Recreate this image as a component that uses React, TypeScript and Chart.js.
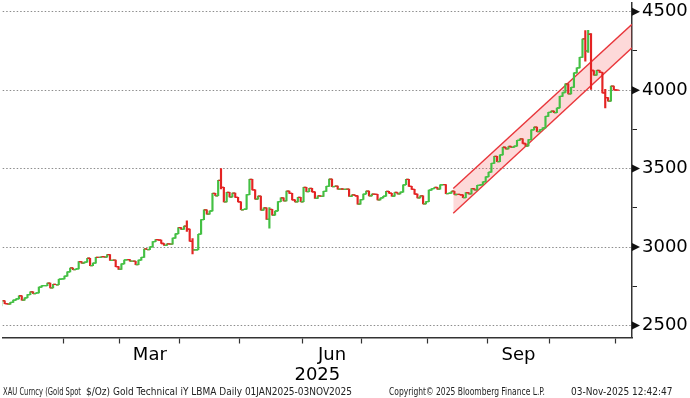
import React, { useEffect, useRef } from 'react';
import { Chart, registerables } from 'chart.js';

Chart.register(...registerables);

// ---------------- data ----------------
const FIRST_DAY = '2025-01-02';
const LAST_DAY = '2025-11-03';
const MARKET_CLOSED = ['2025-04-18'];
const OPEN_BEFORE_FIRST = 2625;

const closesJan = [2658, 2640, 2636, 2648, 2662, 2670, 2690, 2662, 2677, 2697, 2715, 2703, 2708, 2745, 2755, 2755, 2770, 2740, 2763, 2760, 2795, 2798];
const closesFeb = [2815, 2842, 2867, 2856, 2861, 2908, 2898, 2904, 2929, 2882, 2898, 2935, 2934, 2939, 2936, 2952, 2915, 2917, 2876, 2858];
const closesMar = [2893, 2918, 2920, 2910, 2910, 2888, 2917, 2934, 2988, 2984, 3001, 3035, 3048, 3044, 3023, 3011, 3020, 3019, 3057, 3085, 3124];
const closesApr = [3113, 3134, 3114, 3037, 2982, 2983, 3082, 3175, 3237, 3210, 3230, 3342, 3327, 3425, 3381, 3288, 3349, 3319, 3344, 3317, 3288];
const closesMay = [3238, 3241, 3334, 3431, 3365, 3306, 3325, 3236, 3250, 3176, 3240, 3203, 3230, 3290, 3314, 3294, 3357, 3342, 3301, 3288, 3317, 3289];
const closesJun = [3380, 3353, 3374, 3352, 3310, 3326, 3323, 3355, 3387, 3433, 3385, 3388, 3369, 3370, 3368, 3369, 3323, 3333, 3327, 3274, 3303];
const closesJul = [3338, 3357, 3326, 3337, 3336, 3301, 3313, 3324, 3355, 3343, 3324, 3348, 3339, 3350, 3397, 3431, 3387, 3368, 3337, 3314, 3326, 3275, 3290];
const closesAug = [3363, 3373, 3380, 3369, 3397, 3398, 3341, 3344, 3356, 3335, 3336, 3333, 3315, 3347, 3339, 3372, 3365, 3393, 3397, 3416, 3448];
const closesSep = [3477, 3533, 3578, 3545, 3587, 3636, 3626, 3641, 3635, 3643, 3680, 3690, 3660, 3644, 3685, 3747, 3764, 3736, 3749, 3760, 3833, 3858];
const closesOct = [3866, 3857, 3886, 3960, 3985, 4040, 3976, 4018, 4110, 4142, 4209, 4326, 4251, 4356, 4125, 4095, 4126, 4113, 3982, 3952, 3930, 4025, 4002];
const closesNov = [4000];

const wickDates = ['2025-04-03', '2025-04-07', '2025-04-22', '2025-05-15', '2025-10-17', '2025-10-20', '2025-10-21', '2025-10-28'];
const wickHighs = [3168, 3055, 3500, 3252, 4379, 4381, 4360, 4005];
const wickLows = [3100, 2957, 3370, 3121, 4185, 4240, 4004, 3886];

// trend channel (trading-day position, price)
const channelDays = [158.6, 221.4];
const channelUpper = [3373, 4420];
const channelLower = [3216, 4270];

const yTickLabels = [2500, 3000, 3500, 4000, 4500];
const yMinorStep = 250;
const yMin = 2424;
const yMax = 4557;
const xMin = 0.3;
const xMax = 221.4;

const xTickLabels = ['Mar', 'Jun', 'Sep'];
const xLabelMonths = [2, 5, 8];
const yearLabel = '2025';

const footerParts = [
  'XAU Curncy (Gold Spot',
  '$/Oz) Gold Technical iY LBMA Daily 01JAN2025-03NOV2025',
  'Copyright\u00A9 2025 Bloomberg Finance L.P.',
  '03-Nov-2025 12:42:47',
];

// ---------------- helpers ----------------
const FONT = '"DejaVu Sans", Verdana, sans-serif';
const UP = '#44c044';
const DOWN = '#e42323';

function tradingDays(): string[] {
  const out: string[] = [];
  const d = new Date(FIRST_DAY + 'T00:00:00Z');
  const end = new Date(LAST_DAY + 'T00:00:00Z');
  while (d <= end) {
    const wd = d.getUTCDay();
    const iso = d.toISOString().slice(0, 10);
    if (wd !== 0 && wd !== 6 && !MARKET_CLOSED.includes(iso)) out.push(iso);
    d.setUTCDate(d.getUTCDate() + 1);
  }
  return out;
}

export default function App() {
  const ref = useRef<HTMLCanvasElement | null>(null);

  useEffect(() => {
    document.body.style.margin = '0';
    const days = tradingDays();
    const closes = [
      ...closesJan, ...closesFeb, ...closesMar, ...closesApr, ...closesMay, ...closesJun,
      ...closesJul, ...closesAug, ...closesSep, ...closesOct, ...closesNov,
    ];
    const n = Math.min(days.length, closes.length);
    const opens: number[] = [];
    for (let i = 0; i < n; i++) opens.push(i === 0 ? OPEN_BEFORE_FIRST : closes[i - 1]);

    const bars: any[] = [];
    const openTicks: any[] = [];
    const closeTicks: any[] = [];
    const colors: string[] = [];
    for (let i = 0; i < n; i++) {
      const o = opens[i];
      const c = closes[i];
      const w = wickDates.indexOf(days[i]);
      let lo = Math.min(o, c);
      let hi = Math.max(o, c);
      if (w >= 0) {
        lo = Math.min(lo, wickLows[w]);
        hi = Math.max(hi, wickHighs[w]);
      }
      bars.push({ x: i, y: [lo, hi] });
      openTicks.push({ x: i - 0.45, y: o });
      closeTicks.push({ x: i + 0.45, y: c });
      colors.push(c >= o ? UP : DOWN);
    }

    // month boundaries and centres
    const month = (s: string) => parseInt(s.slice(5, 7), 10) - 1;
    const boundaries: number[] = [];
    const firstIdx: Record<number, number> = {};
    const lastIdx: Record<number, number> = {};
    for (let i = 0; i < days.length; i++) {
      const m = month(days[i]);
      if (firstIdx[m] === undefined) firstIdx[m] = i;
      lastIdx[m] = i;
      if (i > 0 && month(days[i - 1]) !== m) boundaries.push(i - 0.5);
    }
    const centres = xLabelMonths.map((m) => (firstIdx[m] + lastIdx[m]) / 2);

    const yTicks: number[] = [];
    for (let v = yTickLabels[0]; v <= yTickLabels[yTickLabels.length - 1]; v += yMinorStep) yTicks.push(v);
    const isMajor = (v: any) => yTickLabels.includes(v);

    const decor = {
      id: 'decor',
      afterDraw(chart: any) {
        const { ctx, scales } = chart;
        const ys = scales.y;
        ctx.save();
        ctx.fillStyle = '#111';
        for (const v of yTickLabels) {
          const py = ys.getPixelForValue(v);
          ctx.beginPath();
          ctx.moveTo(ys.left, py - 4);
          ctx.lineTo(ys.left + 8, py);
          ctx.lineTo(ys.left, py + 4);
          ctx.closePath();
          ctx.fill();
        }
        ctx.fillStyle = '#222';
        ctx.font = '10px "DejaVu Sans Condensed", "DejaVu Sans", sans-serif';
        ctx.textBaseline = 'alphabetic';
        ctx.textAlign = 'left';
        const xs = [3, 86, 389, 571];
        const ws = [78, 292, 156, 118];
        footerParts.forEach((t, k) => ctx.fillText(t, xs[k], 395, ws[k]));
        ctx.restore();
      },
    };

    const chart = new Chart(ref.current as HTMLCanvasElement, {
      type: 'bar',
      data: {
        datasets: [
          {
            type: 'line',
            data: channelDays.map((x, k) => ({ x, y: channelUpper[k] })),
            borderColor: '#e8353a',
            borderWidth: 1.4,
            pointRadius: 0,
            fill: '+1',
            backgroundColor: 'rgba(245,80,80,0.22)',
            order: 3,
          },
          {
            type: 'line',
            data: channelDays.map((x, k) => ({ x, y: channelLower[k] })),
            borderColor: '#e8353a',
            borderWidth: 1.4,
            pointRadius: 0,
            fill: false,
            order: 3,
          },
          {
            type: 'bar',
            data: bars,
            backgroundColor: colors,
            borderWidth: 0,
            barThickness: 1.5,
            order: 2,
          },
          {
            type: 'scatter',
            data: openTicks,
            pointStyle: 'line',
            pointRadius: 1.4,
            pointBorderWidth: 1.3,
            pointBorderColor: colors,
            pointHoverRadius: 1.4,
            order: 1,
          },
          {
            type: 'scatter',
            data: closeTicks,
            pointStyle: 'line',
            pointRadius: 1.4,
            pointBorderWidth: 1.3,
            pointBorderColor: colors,
            pointHoverRadius: 1.4,
            order: 1,
          },
        ] as any,
      },
      options: {
        animation: false,
        responsive: false,
        devicePixelRatio: 1,
        events: [],
        layout: { padding: 0 },
        plugins: { legend: { display: false }, tooltip: { enabled: false } },
        scales: {
          x: {
            type: 'linear',
            position: 'bottom',
            min: xMin,
            max: xMax,
            offset: false,
            weight: 0,
            afterBuildTicks: (s: any) => {
              s.ticks = boundaries.map((v) => ({ value: v }));
            },
            ticks: { display: false },
            grid: {
              display: true,
              drawOnChartArea: false,
              drawTicks: true,
              tickLength: 6,
              tickColor: '#333',
              tickWidth: 1.2,
              offset: false,
            },
            border: { display: true, color: '#333', width: 1.5 },
            afterFit: (s: any) => {
              s.height = 6;
              s.paddingLeft = 0;
              s.paddingRight = 0;
            },
          },
          x2: {
            type: 'linear',
            position: 'bottom',
            min: xMin,
            max: xMax,
            offset: false,
            weight: 1,
            afterBuildTicks: (s: any) => {
              s.ticks = centres.map((v) => ({ value: v }));
            },
            ticks: {
              autoSkip: false,
              maxRotation: 0,
              padding: 1,
              color: '#000',
              font: { family: FONT, size: 18 },
              callback: (v: any) => {
                const k = centres.indexOf(v);
                return k >= 0 ? xTickLabels[k] : '';
              },
            },
            grid: { display: false, drawTicks: false },
            border: { display: false },
            title: {
              display: true,
              text: yearLabel,
              color: '#000',
              font: { family: FONT, size: 18 },
              padding: { top: 0, bottom: 12 },
            },
            afterFit: (s: any) => {
              s.height = 54.5;
              s.paddingLeft = 0;
              s.paddingRight = 0;
            },
          },
          y: {
            type: 'linear',
            position: 'right',
            min: yMin,
            max: yMax,
            afterBuildTicks: (s: any) => {
              s.ticks = yTicks.map((v) => ({ value: v }));
            },
            ticks: {
              autoSkip: false,
              padding: 5,
              color: '#000',
              font: { family: FONT, size: 18 },
              callback: (v: any) => (isMajor(v) ? String(v) : ''),
            },
            grid: {
              color: (c: any) => (c.tick && isMajor(c.tick.value) ? '#8c8c8c' : 'rgba(0,0,0,0)'),
              lineWidth: 1,
              drawTicks: true,
              tickLength: 5,
              tickWidth: 1,
              tickColor: (c: any) => (c.tick && isMajor(c.tick.value) ? 'rgba(0,0,0,0)' : '#222'),
            },
            border: { display: true, color: '#333', width: 1.5, dash: [1.5, 2] },
            afterFit: (s: any) => {
              s.width = 58;
              s.paddingTop = 0;
              s.paddingBottom = 0;
            },
          },
        },
      } as any,
      plugins: [decor],
    });
    return () => chart.destroy();
  }, []);

  return (
    <div style={{ width: 690, height: 398, background: '#fff' }}>
      <canvas ref={ref} width={690} height={398} style={{ display: 'block' }} />
    </div>
  );
}
